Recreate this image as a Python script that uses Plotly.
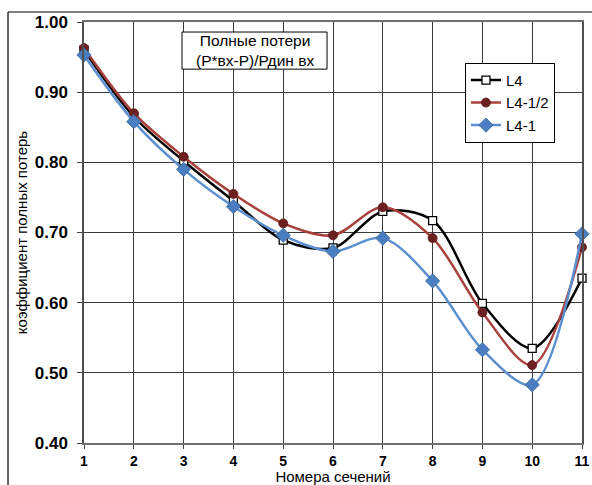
import plotly.graph_objects as go

# Section numbers along the flow path
sections = [1, 2, 3, 4, 5, 6, 7, 8, 9, 10, 11]

# Total loss coefficient for each configuration
loss_L4 = [0.960, 0.865, 0.802, 0.745, 0.689, 0.678, 0.730, 0.717, 0.599, 0.535, 0.635]
loss_L4_half = [0.963, 0.870, 0.808, 0.755, 0.713, 0.696, 0.736, 0.692, 0.586, 0.511, 0.679]
loss_L4_1 = [0.953, 0.858, 0.790, 0.737, 0.696, 0.673, 0.692, 0.631, 0.533, 0.483, 0.698]

y_ticks = [0.4, 0.5, 0.6, 0.7, 0.8, 0.9, 1.0]

FONT = "Liberation Sans, Arial, sans-serif"

fig = go.Figure()

fig.add_trace(go.Scatter(
    x=sections, y=loss_L4, name="L4", mode="lines+markers",
    line=dict(color="#000000", width=2.5, shape="spline", smoothing=0.9),
    marker=dict(symbol="square", size=8, color="#ffffff",
                line=dict(color="#000000", width=1.3)),
    cliponaxis=False,
))
fig.add_trace(go.Scatter(
    x=sections, y=loss_L4_half, name="L4-1/2", mode="lines+markers",
    line=dict(color="#A8403C", width=2.5, shape="spline", smoothing=0.9),
    marker=dict(symbol="circle", size=9, color="#6E1F1F",
                line=dict(color="#5A1A1A", width=0.8)),
    cliponaxis=False,
))
fig.add_trace(go.Scatter(
    x=sections, y=loss_L4_1, name="L4-1", mode="lines+markers",
    line=dict(color="#5B8FD0", width=2.5, shape="spline", smoothing=0.9),
    marker=dict(symbol="diamond", size=11, color="#4A7EC0",
                line=dict(color="#3A68A0", width=0.8)),
    cliponaxis=False,
))

# Outer chart border (left and top edges)
fig.add_shape(type="line", xref="paper", yref="paper",
              x0=-0.1526, x1=-0.1526, y0=1.0238, y1=-0.12,
              line=dict(color="#000000", width=1.2))
fig.add_shape(type="line", xref="paper", yref="paper",
              x0=-0.1526, x1=1.03, y0=1.0238, y1=1.0238,
              line=dict(color="#000000", width=1.2))

# Boxed caption: frame plus a two-line text
fig.add_shape(type="rect", xref="paper", yref="paper",
              x0=0.1968, x1=0.488, y0=0.888, y1=0.9762,
              line=dict(color="#000000", width=1), fillcolor="#ffffff", layer="above")
fig.add_annotation(
    xref="paper", yref="paper", x=0.3424, y=0.932, xanchor="center", yanchor="middle",
    text="Полные потери<br>(P*вх-P)/Рдин вх", showarrow=False, align="center",
    font=dict(family=FONT, size=15.5, color="#000000"),
)

fig.update_layout(
    width=592, height=485,
    margin=dict(l=84, r=10, t=22, b=42, autoexpand=False),
    paper_bgcolor="#ffffff", plot_bgcolor="#ffffff",
    font=dict(family=FONT, color="#000000"),
    showlegend=True,
    legend=dict(
        x=0.765, y=0.903, xanchor="left", yanchor="top",
        bgcolor="#ffffff", bordercolor="#000000", borderwidth=1,
        font=dict(family=FONT, size=15, color="#000000"),
        itemwidth=30, tracegroupgap=0,
    ),
    xaxis=dict(
        range=[1, 11], tickvals=sections, ticks="outside", ticklen=4,
        tickcolor="#404040", showgrid=True, gridcolor="#3a3a3a", gridwidth=1,
        showline=True, linecolor="#707070", linewidth=1.5, mirror=True,
        zeroline=False, automargin=False,
        tickfont=dict(family=FONT, size=14, color="#000000", weight="bold"),
        title=dict(text="Номера сечений", font=dict(family=FONT, size=15), standoff=3),
    ),
    yaxis=dict(
        range=[0.4, 1.0], tickvals=y_ticks, tickformat=".2f", ticks="outside",
        ticklen=5, tickcolor="#404040", showgrid=True, gridcolor="#3a3a3a",
        gridwidth=1, showline=True, linecolor="#505050", linewidth=1.5, mirror=True,
        zeroline=False, automargin=False, ticklabelstandoff=6,
        tickfont=dict(family=FONT, size=17, color="#000000", weight="bold"),
        title=dict(text="коэффициент полных потерь", font=dict(family=FONT, size=15),
                   standoff=4),
    ),
)

fig.write_html("out.html")
